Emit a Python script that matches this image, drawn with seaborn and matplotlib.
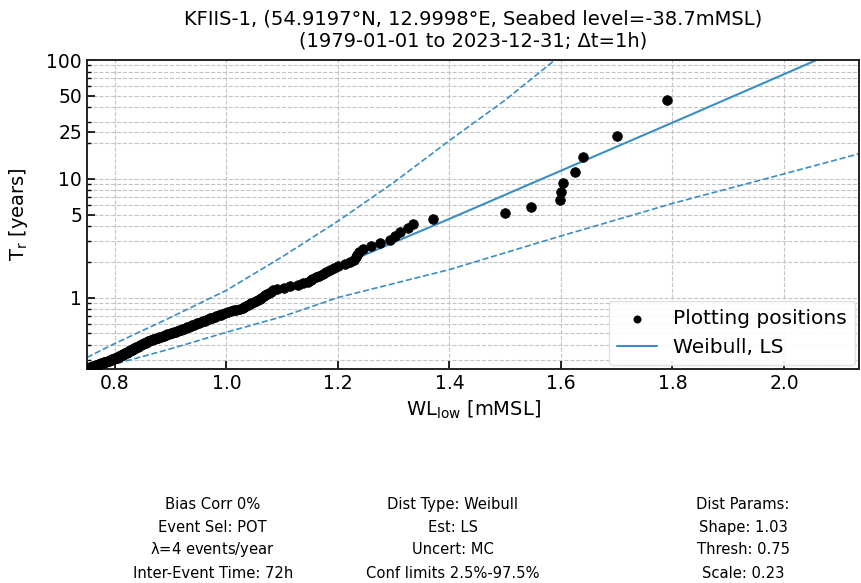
import matplotlib
matplotlib.use('Agg')
import matplotlib.pyplot as plt
import matplotlib.ticker as mticker
import seaborn as sns

# plotting positions (rank 1 = largest event)
pp_wl = [1.79, 1.70, 1.64, 1.625, 1.603, 1.600, 1.598, 1.546, 1.500, 1.371,
         1.335, 1.325, 1.312, 1.302, 1.293, 1.275, 1.260, 1.245, 1.237, 1.234,
         1.232, 1.228, 1.222, 1.212, 1.200, 1.193, 1.186, 1.179, 1.173, 1.166,
         1.160, 1.154, 1.152, 1.147, 1.138, 1.128, 1.115, 1.103, 1.090, 1.083,
         1.080, 1.077, 1.073, 1.070, 1.067, 1.063, 1.060, 1.056, 1.053, 1.049,
         1.045, 1.042, 1.039, 1.035, 1.032, 1.029, 1.024, 1.018, 1.013, 1.008,
         1.003, .998, .993, .990, .986, .982, .979, .975, .971, .968,
         .964, .961, .958, .954, .951, .948, .945, .942, .939, .936,
         .933, .930, .927, .924, .921, .918, .916, .912, .909, .906,
         .903, .900, .897, .894, .891, .888, .886, .883, .880, .877,
         .875, .872, .869, .866, .864, .862, .860, .858, .857, .855,
         .854, .852, .850, .849, .847, .846, .844, .843, .841, .840,
         .838, .837, .835, .834, .832, .831, .830, .828, .827, .826,
         .824, .823, .822, .821, .819, .818, .817, .815, .814, .813,
         .811, .810, .809, .808, .807, .805, .804, .803, .802, .800,
         .798, .797, .795, .793, .792, .790, .788, .787, .785, .783,
         .782, .780, .779, .777, .775, .774, .772, .771, .769, .768,
         .766, .765, .763, .762, .760, .759, .757, .756, .755, .754]
pp_tr = [46.0, 23.0, 15.33, 11.5, 9.2, 7.67, 6.57, 5.75, 5.11, 4.6,
         4.18, 3.83, 3.54, 3.29, 3.07, 2.875, 2.706, 2.556, 2.421, 2.3,
         2.19, 2.09, 2.0, 1.917, 1.84, 1.769, 1.704, 1.643, 1.586, 1.533,
         1.484, 1.438, 1.394, 1.353, 1.314, 1.278, 1.243, 1.211, 1.179, 1.15,
         1.122, 1.095, 1.07, 1.045, 1.022, 1.0, .979, .958, .939, .92,
         .902, .885, .868, .852, .836, .821, .807, .793, .78, .767,
         .754, .742, .73, .719, .708, .697, .687, .676, .667, .657,
         .648, .639, .63, .622, .613, .605, .597, .59, .582, .575,
         .568, .561, .554, .548, .541, .535, .529, .523, .517, .511,
         .505, .5, .495, .489, .484, .479, .474, .469, .465, .46,
         .455, .451, .447, .442, .438, .434, .43, .426, .422, .418,
         .414, .411, .407, .404, .4, .397, .393, .39, .387, .383,
         .38, .377, .374, .371, .368, .365, .362, .359, .357, .354,
         .351, .348, .346, .343, .341, .338, .336, .333, .331, .329,
         .326, .324, .322, .319, .317, .315, .313, .311, .309, .307,
         .305, .303, .301, .299, .297, .295, .293, .291, .289, .2875,
         .286, .284, .282, .28, .279, .277, .275, .274, .272, .2706,
         .269, .267, .266, .264, .263, .261, .26, .258, .257, .2556]

# fitted Weibull (LS) curve
fit_wl = [0.75, 0.8, 0.9, 1.0, 1.2, 1.4, 1.6, 1.8, 2.0, 2.14]
fit_tr = [0.25, 0.31, 0.48, 0.74, 1.84, 4.6, 11.7, 29.7, 76, 147]

# confidence limits
upper_wl = [0.75, 0.8, 0.9, 1.0, 1.1, 1.2, 1.3, 1.4, 1.5, 1.6]
upper_tr = [0.313, 0.41, 0.68, 1.15, 2.2, 4.4, 9.3, 21, 46, 110]
lower_wl = [0.76, 0.8, 0.9, 1.0, 1.1, 1.2, 1.4, 1.6, 1.8, 2.0, 2.14]
lower_tr = [0.232, 0.275, 0.37, 0.51, 0.69, 1.0, 1.72, 3.3, 6.2, 11.0, 16.5]

y_ticks = [1, 5, 10, 25, 50, 100]
x_ticks = [0.8, 1.0, 1.2, 1.4, 1.6, 1.8, 2.0]

info_cols = [
    ['Bias Corr 0%', 'Event Sel: POT', r'$\lambda$=4 events/year', 'Inter-Event Time: 72h'],
    ['Dist Type: Weibull', 'Est: LS', 'Uncert: MC', 'Conf limits 2.5%-97.5%'],
    ['Dist Params:', 'Shape: 1.03', 'Thresh: 0.75', 'Scale: 0.23'],
]

BLUE = '#3b8ec4'

sns.set_style('ticks')
plt.rcParams['font.family'] = ['DejaVu Sans']
plt.rcParams['mathtext.default'] = 'regular'
plt.rcParams['text.color'] = 'black'
plt.rcParams['axes.labelcolor'] = 'black'
plt.rcParams['xtick.color'] = 'black'
plt.rcParams['ytick.color'] = 'black'

fig, ax = plt.subplots(figsize=(8.61, 5.83), dpi=100)
fig.subplots_adjust(left=0.101, right=0.998, top=0.897, bottom=0.367)

ax.set_yscale('log')

sns.lineplot(x=upper_wl, y=upper_tr, color=BLUE, linestyle='--', lw=1.2,
             estimator=None, legend=False, ax=ax)
sns.lineplot(x=lower_wl, y=lower_tr, color=BLUE, linestyle='--', lw=1.2,
             estimator=None, legend=False, ax=ax)
sns.scatterplot(x=pp_wl, y=pp_tr, color='black', edgecolor='black', s=48,
                label='Plotting positions', ax=ax, zorder=3)
sns.lineplot(x=fit_wl, y=fit_tr, color=BLUE, lw=1.5, estimator=None,
             label='Weibull, LS', ax=ax)

ax.set_xlim(0.75, 2.135)
ax.set_ylim(0.25, 100)
ax.set_xticks(x_ticks)
ax.set_yticks(y_ticks)
ax.yaxis.set_major_formatter(mticker.FixedFormatter([str(t) for t in y_ticks]))
ax.yaxis.set_minor_locator(mticker.LogLocator(base=10, subs=range(2, 10)))
ax.yaxis.set_minor_formatter(mticker.NullFormatter())

ax.grid(which='major', color='#c4c4c4', ls='--', lw=0.8)
ax.grid(which='minor', axis='y', color='#c4c4c4', ls='--', lw=0.8)
ax.tick_params(which='major', direction='in', length=6, width=1.2, labelsize=13.5)
ax.tick_params(which='minor', direction='in', length=3, width=1.0)
for sp in ax.spines.values():
    sp.set_linewidth(1.4)
    sp.set_color('#222222')

ax.set_xlabel('WL$_{low}$ [mMSL]', fontsize=14)
ax.set_ylabel('T$_r$ [years]', fontsize=14, labelpad=12)
ax.set_title('KFIIS-1, (54.9197°N, 12.9998°E, Seabed level=-38.7mMSL)\n'
             '(1979-01-01 to 2023-12-31; Δt=1h)', fontsize=14, pad=10)

ax.legend(loc='lower right', fontsize=14.5, markerscale=0.75, frameon=True,
          edgecolor='#dddddd', framealpha=0.9, borderaxespad=0.2)

col_x = [0.247, 0.526, 0.863]
row_y = [0.134, 0.096, 0.058, 0.017]
for cx, lines in zip(col_x, info_cols):
    for ry, txt in zip(row_y, lines):
        fig.text(cx, ry, txt, ha='center', va='center', fontsize=11.8,
                 fontstretch='condensed')

fig.savefig('out.png', dpi=100)
